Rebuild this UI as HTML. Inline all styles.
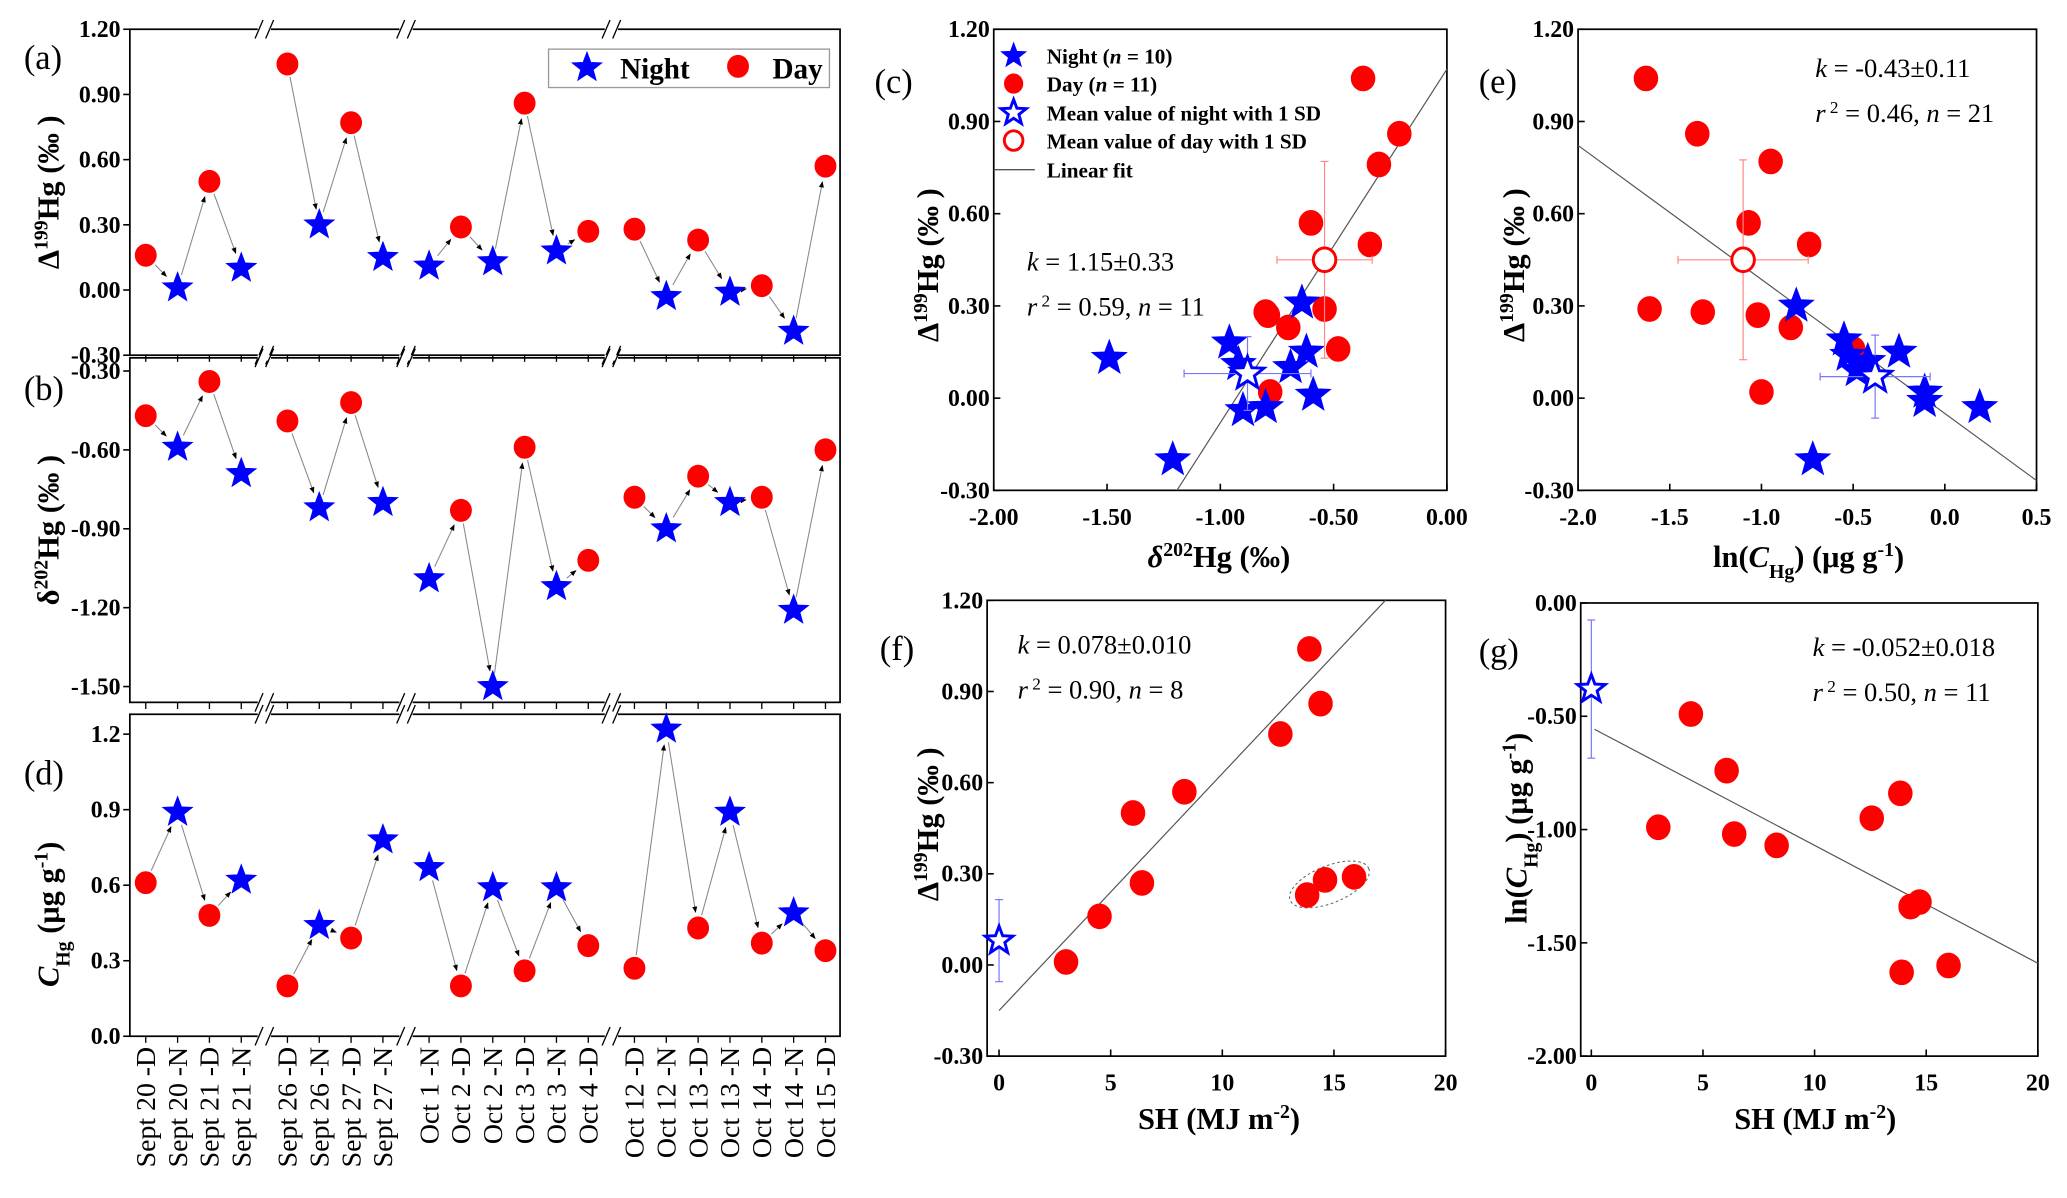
<!DOCTYPE html>
<html><head><meta charset="utf-8"><style>
html,body{margin:0;padding:0;background:#fff;}
svg{display:block;font-family:"Liberation Serif","DejaVu Serif",serif;}
</style></head><body>
<svg id="fig" xmlns="http://www.w3.org/2000/svg" width="2067" height="1198" viewBox="0 0 1560 904">
<defs>
<marker id="ah" viewBox="0 0 10 10" refX="9" refY="5" markerWidth="6" markerHeight="6" orient="auto"><path d="M0,1 L10,5 L0,9 Z" fill="#000"/></marker>
</defs>
</svg>
<script>
// ---------- data ----------
const cats = ["Sept 20 -D","Sept 20 -N","Sept 21 -D","Sept 21 -N","Sept 26 -D","Sept 26 -N","Sept 27 -D","Sept 27 -N","Oct 1 -N","Oct 2 -D","Oct 2 -N","Oct 3 -D","Oct 3 -N","Oct 4 -D","Oct 12 -D","Oct 12 -N","Oct 13 -D","Oct 13 -N","Oct 14 -D","Oct 14 -N","Oct 15 -D"];
const types = ["D","N","D","N","D","N","D","N","N","D","N","D","N","D","D","N","D","N","D","N","D"];
const groupOf = [0,0,0,0,1,1,1,1,2,2,2,2,2,2,3,3,3,3,3,3,3];
const d199 = [0.16,0.01,0.50,0.10,1.04,0.30,0.77,0.15,0.11,0.29,0.13,0.86,0.18,0.27,0.28,-0.03,0.23,-0.01,0.02,-0.19,0.57];
const d202 = [-0.47,-0.59,-0.34,-0.69,-0.49,-0.82,-0.42,-0.80,-1.09,-0.83,-1.50,-0.59,-1.12,-1.02,-0.78,-0.90,-0.70,-0.80,-0.78,-1.21,-0.60];
const chg = [0.61,0.89,0.48,0.62,0.20,0.44,0.39,0.78,0.67,0.20,0.59,0.26,0.59,0.36,0.27,1.22,0.43,0.89,0.37,0.49,0.34];

const cDayX = [-0.37,-0.21,-0.30,-0.60,-0.34,-0.54,-0.80,-0.79,-0.70,-0.48,-0.78];
const cDayY = [1.04,0.86,0.76,0.57,0.50,0.29,0.28,0.27,0.23,0.16,0.02];
const cNightX = [-1.49,-1.21,-0.64,-0.96,-0.62,-0.92,-0.69,-0.59,-0.90,-0.80];
const cNightY = [0.13,-0.20,0.31,0.18,0.15,0.11,0.10,0.01,-0.04,-0.03];
const cMeanNight = [-0.88,0.08,0.28,0.12];
const cMeanDay = [-0.54,0.45,0.21,0.32];
const cFit = [1.15,1.07];

const eDayX = [-1.63,-1.35,-0.95,-1.07,-0.74,-1.61,-1.32,-1.02,-0.84,-0.50,-1.00];
const eDayY = [1.04,0.86,0.77,0.57,0.50,0.29,0.28,0.27,0.23,0.16,0.02];
const eNightX = [-0.81,-0.55,-0.25,-0.53,-0.42,-0.48,-0.11,-0.11,0.19,-0.72];
const eNightY = [0.30,0.19,0.15,0.14,0.12,0.09,0.02,-0.01,-0.03,-0.20];
const eMeanNight = [-0.38,0.07,0.30,0.135];
const eMeanDay = [-1.10,0.45,0.355,0.325];
const eFit = [-0.436,-0.05];

const fX = [13.9,14.4,12.6,8.3,6.0,6.4,4.5,3.0,13.8,14.6,15.9];
const fY = [1.04,0.86,0.76,0.57,0.50,0.27,0.16,0.01,0.23,0.28,0.29];
const fMeanNight = [0,0.08,0.135];
const fFit = [0.078,-0.15];

const gX = [4.46,6.06,13.84,12.56,3.0,6.4,8.3,14.7,14.3,13.9,16.0];
const gY = [-0.49,-0.74,-0.84,-0.95,-0.99,-1.02,-1.07,-1.32,-1.34,-1.63,-1.60];
const gMeanNight = [0,-0.38,0.305];
const gFit = [-0.052,-0.55];

// ---------- helpers ----------
const NS = "http://www.w3.org/2000/svg";
const svg = document.getElementById('fig');
function add(parent, tag, name, attrs, txt){
  const el = document.createElementNS(NS, tag);
  for (const k in attrs) el.setAttribute(k, attrs[k]);
  
  
  if (txt !== undefined) el.textContent = txt;
  parent.appendChild(el);
  return el;
}
function lin(d0,d1,r0,r1){ return v => r0 + (v-d0)*(r1-r0)/(d1-d0); }
function starPath(cx,cy,R){
  const r = R*0.42; let d = "";
  for (let i=0;i<10;i++){
    const a = -Math.PI/2 + i*Math.PI/5;
    const rr = i%2===0 ? R : r;
    d += (i===0?"M":"L") + (cx+rr*Math.cos(a)).toFixed(2) + "," + (cy+rr*Math.sin(a)).toFixed(2);
  }
  return d + "Z";
}
function star(g, cx, cy, R, name, open){
  return add(g, 'path', name, {d: starPath(cx,cy,R), fill: open?'#fff':'#0000ff', stroke:'#0000ff', 'stroke-width': open?2.2:0.5, 'stroke-linejoin':'miter'});
}
function dot(g, cx, cy, r, name, open){
  return add(g, 'ellipse', name, {cx:cx, cy:cy, rx:r, ry:r*1.05, fill: open?'#fff':'#ff0000', stroke:'#ff0000', 'stroke-width': open?2.2:0.5});
}
function txt(g, x, y, s, size, name, opts){
  opts = opts||{};
  const a = {x:x, y:y, 'font-size':size};
  if (opts.bold) a['font-weight']='bold';
  if (opts.anchor) a['text-anchor']=opts.anchor;
  if (opts.transform) a['transform']=opts.transform;
  if (opts.style) a['font-style']=opts.style;
  return add(g, 'text', name, a, s);
}
function richText(g, x, y, parts, size, name, opts){
  opts = opts||{};
  const a = {x:x, y:y, 'font-size':size};
  if (opts.bold) a['font-weight']='bold';
  if (opts.anchor) a['text-anchor']=opts.anchor;
  if (opts.transform) a['transform']=opts.transform;
  const t = add(g, 'text', name, a);
  parts.forEach(p=>{
    const ta = {};
    if (p.sup) { ta['baseline-shift']='super'; ta['font-size']=size*0.65; }
    if (p.sub) { ta['baseline-shift']='sub'; ta['font-size']=size*0.65; }
    if (p.it) ta['font-style']='italic';
    if (p.w) ta['font-weight']=p.w;
    add(t, 'tspan', 'text-part', ta, p.t);
  });
  return t;
}
function line(g,x1,y1,x2,y2,name,stroke,w,extra){
  const a = {x1:x1,y1:y1,x2:x2,y2:y2,stroke:stroke||'#000','stroke-width':w||1.2};
  if (extra) for (const k in extra) a[k]=extra[k];
  return add(g,'line',name,a);
}
function errBar(g, cx, cy, x0, x1, y0, y1, color, name){
  const eg = add(g,'g',name,{});
  if (x0!==null){ line(eg,x0,cy,x1,cy,'x-error',color,0.9); line(eg,x0,cy-3,x0,cy+3,'x-error-cap',color,0.9); line(eg,x1,cy-3,x1,cy+3,'x-error-cap',color,0.9); }
  if (y0!==null){ line(eg,cx,y0,cx,y1,'y-error',color,0.9); line(eg,cx-3,y0,cx+3,y0,'y-error-cap',color,0.9); line(eg,cx-3,y1,cx+3,y1,'y-error-cap',color,0.9); }
}
function box(g,x0,y0,x1,y1,name){
  return add(g,'rect',name,{x:x0,y:y0,width:x1-x0,height:y1-y0,fill:'none',stroke:'#000','stroke-width':1.3});
}

// ---------- left time-series panels ----------
const XL=98, XR=634;
const unit = 513/(20+3*0.45);
function catX(i){ return 110 + (i + groupOf[i]*0.45)*unit; }
const breakX = [0.5*(catX(3)+catX(4)), 0.5*(catX(7)+catX(8)), 0.5*(catX(13)+catX(14))];

function seriesPanel(name, yTop, yBot, v0, v1, vals, ticks, dec, label, labelY){
  const g = add(svg,'g',name,{});
  const sy = lin(v0, v1, yBot, yTop);
  box(g, XL, yTop, XR, yBot, 'plot-frame');
  breakX.forEach(bx=>{
    [yTop,yBot].forEach(yy=>{
      add(g,'rect','axis-break-gap',{x:bx-5,y:yy-2,width:10,height:4,fill:'#fff'});
      line(g,bx-7,yy+7,bx-1,yy-7,'axis-break-mark','#000',1);
      line(g,bx+1,yy+7,bx+7,yy-7,'axis-break-mark','#000',1);
    });
  });
  ticks.forEach(t=>{
    const y = sy(t);
    line(g,XL-5,y,XL,y,'y-tick');
    txt(g, XL-7, y+6, t.toFixed(dec), 18, 'y-tick-label', {bold:true, anchor:'end'});
  });
  cats.forEach((c,i)=>{ line(g,catX(i),yBot,catX(i),yBot+5,'x-tick','#000',1); });
  for (let i=0;i<cats.length-1;i++){
    if (groupOf[i]!==groupOf[i+1]) continue;
    const x1=catX(i), y1=sy(vals[i]), x2=catX(i+1), y2=sy(vals[i+1]);
    const dx=x2-x1, dy=y2-y1, L=Math.hypot(dx,dy);
    const s=10/L, e=12/L;
    line(g, x1+dx*s, y1+dy*s, x2-dx*e, y2-dy*e, 'trend-arrow', '#888', 0.8, {'marker-end':'url(#ah)'});
  }
  vals.forEach((v,i)=>{
    if (types[i]==='N') star(g, catX(i), sy(v), 12, 'night-point');
    else dot(g, catX(i), sy(v), 8, 'day-point');
  });
  txt(g, 18, labelY, label, 26, 'panel-label');
  return {g, sy};
}
const pa = seriesPanel('panel-a', 22, 268, -0.30, 1.20, d199, [1.2,0.9,0.6,0.3,0,-0.3], 2, '(a)', 52);
richText(pa.g, 0, 0, [{t:'Δ'},{t:'199',sup:true},{t:'Hg (‰ )'}], 23, 'y-axis-title', {bold:true, anchor:'middle', transform:'translate(44,145) rotate(-90)'});
const lg = add(pa.g,'g','legend',{});
add(lg,'rect','legend-box',{x:414,y:37,width:212,height:29,fill:'#fff',stroke:'#999','stroke-width':1});
star(lg, 443, 51, 12, 'legend-night-marker');
txt(lg, 468, 59, 'Night', 22, 'legend-night-label', {bold:true});
dot(lg, 557, 50, 8, 'legend-day-marker');
txt(lg, 583, 59, 'Day', 22, 'legend-day-label', {bold:true});

const pb = seriesPanel('panel-b', 270, 530, -1.56, -0.25, d202, [-0.3,-0.6,-0.9,-1.2,-1.5], 2, '(b)', 302);
richText(pb.g, 0, 0, [{t:'δ'},{t:'202',sup:true},{t:'Hg (‰ )'}], 23, 'y-axis-title', {bold:true, anchor:'middle', transform:'translate(44,400) rotate(-90)'});

const pd = seriesPanel('panel-d', 539, 782, 0, 1.2*(782-539)/(782-554), chg, [0,0.3,0.6,0.9,1.2], 1, '(d)', 592);
richText(pd.g, 0, 0, [{t:'C',it:true},{t:'Hg',sub:true},{t:' (μg g'},{t:'-1',sup:true},{t:')'}], 23, 'y-axis-title', {bold:true, anchor:'middle', transform:'translate(44,690) rotate(-90)'});
cats.forEach((c,i)=>{
  txt(pd.g, 0, 0, c, 21, 'x-tick-label', {anchor:'end', transform:'translate('+(catX(i)+7)+',790) rotate(-90)'});
});

// ---------- scatter panels ----------
function scatterFrame(name, bx0, bx1, by0, by1, xd0, xd1, xr0, xr1, yd0, yd1, yr0, yr1, xt, xdec, yt, ydec){
  const g = add(svg,'g',name,{});
  const sx = lin(xd0,xd1,xr0,xr1), sy = lin(yd0,yd1,yr0,yr1);
  box(g,bx0,by0,bx1,by1,'plot-frame');
  xt.forEach(t=>{ const x=sx(t); line(g,x,by1,x,by1-5,'x-tick'); txt(g,x,by1+26,t.toFixed(xdec),18,'x-tick-label',{bold:true,anchor:'middle'}); });
  yt.forEach(t=>{ const y=sy(t); line(g,bx0,y,bx0+5,y,'y-tick'); txt(g,bx0-3,y+6,t.toFixed(ydec),18,'y-tick-label',{bold:true,anchor:'end'}); });
  return {g,sx,sy};
}
function clipLine(g, sx, sy, k, b, x0, x1, name){
  line(g, sx(x0), sy(k*x0+b), sx(x1), sy(k*x1+b), name, '#555', 0.9);
}

// (c)
const pc = scatterFrame('panel-c', 750, 1092, 22, 370, -2, 0, 750, 1092, -0.3, 1.2, 370, 22, [-2,-1.5,-1,-0.5,0], 2, [-0.3,0,0.3,0.6,0.9,1.2], 2);
clipLine(pc.g, pc.sx, pc.sy, cFit[0], cFit[1], (-0.30-cFit[1])/cFit[0], 0, 'linear-fit');
cDayX.forEach((x,i)=>dot(pc.g, pc.sx(x), pc.sy(cDayY[i]), 9, 'day-point'));
cNightX.forEach((x,i)=>star(pc.g, pc.sx(x), pc.sy(cNightY[i]), 14, 'night-point'));
errBar(pc.g, pc.sx(cMeanNight[0]), pc.sy(cMeanNight[1]), pc.sx(cMeanNight[0]-cMeanNight[2]), pc.sx(cMeanNight[0]+cMeanNight[2]), pc.sy(cMeanNight[1]+cMeanNight[3]), pc.sy(cMeanNight[1]-cMeanNight[3]), '#7777ff', 'night-mean-error');
errBar(pc.g, pc.sx(cMeanDay[0]), pc.sy(cMeanDay[1]), pc.sx(cMeanDay[0]-cMeanDay[2]), pc.sx(cMeanDay[0]+cMeanDay[2]), pc.sy(cMeanDay[1]+cMeanDay[3]), pc.sy(cMeanDay[1]-cMeanDay[3]), '#ff8888', 'day-mean-error');
star(pc.g, pc.sx(cMeanNight[0]), pc.sy(cMeanNight[1]), 13, 'night-mean-point', true);
dot(pc.g, pc.sx(cMeanDay[0]), pc.sy(cMeanDay[1]), 8.5, 'day-mean-point', true);
txt(pc.g, 660, 70, '(c)', 26, 'panel-label');
richText(pc.g, 0, 0, [{t:'Δ'},{t:'199',sup:true},{t:'Hg (‰ )'}], 23, 'y-axis-title', {bold:true, anchor:'middle', transform:'translate(708,200) rotate(-90)'});
richText(pc.g, 920, 428, [{t:'δ',it:true},{t:'202',sup:true},{t:'Hg (‰)'}], 23, 'x-axis-title', {bold:true, anchor:'middle'});
richText(pc.g, 775, 204, [{t:'k',it:true},{t:' = 1.15±0.33'}], 20, 'fit-slope-annotation');
richText(pc.g, 775, 238, [{t:'r',it:true},{t:' 2',sup:true},{t:' = 0.59, '},{t:'n',it:true},{t:' = 11'}], 20, 'fit-r2-annotation');
const lc = add(pc.g,'g','legend',{});
star(lc, 765, 42, 10, 'legend-night-marker');
richText(lc, 790, 48, [{t:'Night ('},{t:'n',it:true},{t:' = 10)'}], 16, 'legend-night-label', {bold:true});
dot(lc, 765, 63, 7, 'legend-day-marker');
richText(lc, 790, 69, [{t:'Day ('},{t:'n',it:true},{t:' = 11)'}], 16, 'legend-day-label', {bold:true});
star(lc, 765, 85, 10, 'legend-night-mean-marker', true);
txt(lc, 790, 91, 'Mean value of night with 1 SD', 16, 'legend-night-mean-label', {bold:true});
dot(lc, 765, 106, 7, 'legend-day-mean-marker', true);
txt(lc, 790, 112, 'Mean value of day with 1 SD', 16, 'legend-day-mean-label', {bold:true});
line(lc, 750, 128, 781, 128, 'legend-fit-line', '#555', 1);
txt(lc, 790, 134, 'Linear fit', 16, 'legend-fit-label', {bold:true});

// (e)
const pe = scatterFrame('panel-e', 1191, 1537, 22, 370, -2, 0.5, 1191, 1537, -0.3, 1.2, 370, 22, [-2,-1.5,-1,-0.5,0,0.5], 1, [-0.3,0,0.3,0.6,0.9,1.2], 2);
clipLine(pe.g, pe.sx, pe.sy, eFit[0], eFit[1], -2, 0.5, 'linear-fit');
eDayX.forEach((x,i)=>dot(pe.g, pe.sx(x), pe.sy(eDayY[i]), 9, 'day-point'));
eNightX.forEach((x,i)=>star(pe.g, pe.sx(x), pe.sy(eNightY[i]), 14, 'night-point'));
errBar(pe.g, pe.sx(eMeanNight[0]), pe.sy(eMeanNight[1]), pe.sx(eMeanNight[0]-eMeanNight[2]), pe.sx(eMeanNight[0]+eMeanNight[2]), pe.sy(eMeanNight[1]+eMeanNight[3]), pe.sy(eMeanNight[1]-eMeanNight[3]), '#7777ff', 'night-mean-error');
errBar(pe.g, pe.sx(eMeanDay[0]), pe.sy(eMeanDay[1]), pe.sx(eMeanDay[0]-eMeanDay[2]), pe.sx(eMeanDay[0]+eMeanDay[2]), pe.sy(eMeanDay[1]+eMeanDay[3]), pe.sy(eMeanDay[1]-eMeanDay[3]), '#ff8888', 'day-mean-error');
star(pe.g, pe.sx(eMeanNight[0]), pe.sy(eMeanNight[1]), 13, 'night-mean-point', true);
dot(pe.g, pe.sx(eMeanDay[0]), pe.sy(eMeanDay[1]), 8.5, 'day-mean-point', true);
txt(pe.g, 1116, 70, '(e)', 26, 'panel-label');
richText(pe.g, 0, 0, [{t:'Δ'},{t:'199',sup:true},{t:'Hg (‰ )'}], 23, 'y-axis-title', {bold:true, anchor:'middle', transform:'translate(1150,200) rotate(-90)'});
richText(pe.g, 1365, 428, [{t:'ln('},{t:'C',it:true},{t:'Hg',sub:true},{t:') (μg g'},{t:'-1',sup:true},{t:')'}], 23, 'x-axis-title', {bold:true, anchor:'middle'});
richText(pe.g, 1370, 58, [{t:'k',it:true},{t:' = -0.43±0.11'}], 20, 'fit-slope-annotation');
richText(pe.g, 1370, 92, [{t:'r',it:true},{t:' 2',sup:true},{t:' = 0.46, '},{t:'n',it:true},{t:' = 21'}], 20, 'fit-r2-annotation');

// (f)
const pf = scatterFrame('panel-f', 745, 1091, 453, 797, 0, 20, 754, 1091, -0.3, 1.2, 797, 453, [0,5,10,15,20], 0, [-0.3,0,0.3,0.6,0.9,1.2], 2);
clipLine(pf.g, pf.sx, pf.sy, fFit[0], fFit[1], 0, (1.2-fFit[1])/fFit[0], 'linear-fit');
add(pf.g,'ellipse','highlight-ellipse',{cx:pf.sx(14.8), cy:pf.sy(0.265), rx:32, ry:14, transform:'rotate(-22 '+pf.sx(14.8)+' '+pf.sy(0.265)+')', fill:'none', stroke:'#666', 'stroke-width':0.8, 'stroke-dasharray':'2,2'});
fX.forEach((x,i)=>dot(pf.g, pf.sx(x), pf.sy(fY[i]), 9, 'day-point'));
errBar(pf.g, pf.sx(fMeanNight[0]), pf.sy(fMeanNight[1]), null, null, pf.sy(fMeanNight[1]+fMeanNight[2]), pf.sy(fMeanNight[1]-fMeanNight[2]), '#7777ff', 'night-mean-error');
star(pf.g, pf.sx(fMeanNight[0]), pf.sy(fMeanNight[1]), 11, 'night-mean-point', true);
txt(pf.g, 664, 498, '(f)', 26, 'panel-label');
richText(pf.g, 0, 0, [{t:'Δ'},{t:'199',sup:true},{t:'Hg (‰ )'}], 23, 'y-axis-title', {bold:true, anchor:'middle', transform:'translate(708,622) rotate(-90)'});
richText(pf.g, 920, 852, [{t:'SH (MJ m'},{t:'-2',sup:true},{t:')'}], 23, 'x-axis-title', {bold:true, anchor:'middle'});
richText(pf.g, 768, 493, [{t:'k',it:true},{t:' = 0.078±0.010'}], 20, 'fit-slope-annotation');
richText(pf.g, 768, 527, [{t:'r',it:true},{t:' 2',sup:true},{t:' = 0.90, '},{t:'n',it:true},{t:' = 8'}], 20, 'fit-r2-annotation');

// (g)
const pg = scatterFrame('panel-g', 1193, 1538, 455, 797, 0, 20, 1201, 1538, -2, 0, 797, 455, [0,5,10,15,20], 0, [-2,-1.5,-1,-0.5,0], 2);
clipLine(pg.g, pg.sx, pg.sy, gFit[0], gFit[1], 0.14, 20, 'linear-fit');
gX.forEach((x,i)=>dot(pg.g, pg.sx(x), pg.sy(gY[i]), 9, 'day-point'));
errBar(pg.g, pg.sx(gMeanNight[0]), pg.sy(gMeanNight[1]), null, null, pg.sy(gMeanNight[1]+gMeanNight[2]), pg.sy(gMeanNight[1]-gMeanNight[2]), '#7777ff', 'night-mean-error');
star(pg.g, pg.sx(gMeanNight[0]), pg.sy(gMeanNight[1]), 11, 'night-mean-point', true);
txt(pg.g, 1116, 500, '(g)', 26, 'panel-label');
richText(pg.g, 0, 0, [{t:'ln('},{t:'C',it:true},{t:'Hg',sub:true},{t:') (μg g'},{t:'-1',sup:true},{t:')'}], 23, 'y-axis-title', {bold:true, anchor:'middle', transform:'translate(1152,625) rotate(-90)'});
richText(pg.g, 1370, 852, [{t:'SH (MJ m'},{t:'-2',sup:true},{t:')'}], 23, 'x-axis-title', {bold:true, anchor:'middle'});
richText(pg.g, 1368, 495, [{t:'k',it:true},{t:' = -0.052±0.018'}], 20, 'fit-slope-annotation');
richText(pg.g, 1368, 529, [{t:'r',it:true},{t:' 2',sup:true},{t:' = 0.50, '},{t:'n',it:true},{t:' = 11'}], 20, 'fit-r2-annotation');
</script>
</body></html>
